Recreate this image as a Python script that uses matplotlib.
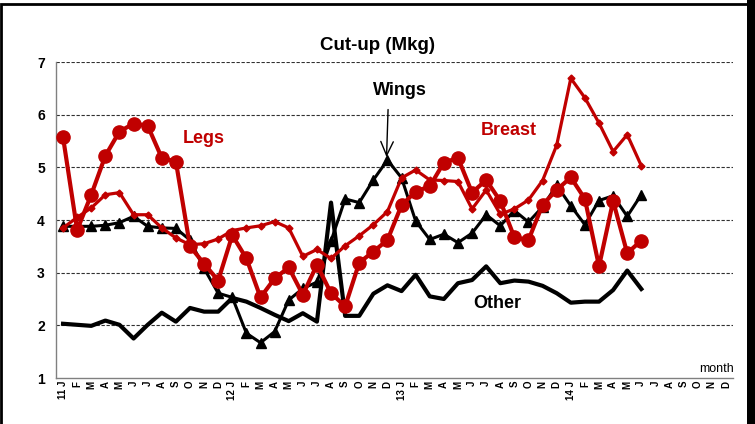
import matplotlib
matplotlib.use("Agg")
import matplotlib.pyplot as plt
from matplotlib.patches import Rectangle

plt.rcParams['font.family'] = ['Liberation Sans', 'DejaVu Sans']

RED = '#C00000'

# month labels, Jan 2011 .. Dec 2014
months = ['J', 'F', 'M', 'A', 'M', 'J', 'J', 'A', 'S', 'O', 'N', 'D']
years = ['11', '12', '13', '14']
tick_labels = []
for y in years:
    for k, m in enumerate(months):
        tick_labels.append(y + ' ' + m if k == 0 else m)

# Mkg, Jan 2011 .. Jun 2014
legs = [5.57, 3.81, 4.48, 5.22, 5.68, 5.83, 5.79, 5.18, 5.11, 3.50, 3.17, 2.85,
        3.71, 3.27, 2.53, 2.89, 3.10, 2.58, 3.15, 2.61, 2.36, 3.19, 3.40, 3.62,
        4.28, 4.54, 4.64, 5.09, 5.18, 4.52, 4.76, 4.36, 3.67, 3.62, 4.29, 4.57,
        4.81, 4.40, 3.12, 4.36, 3.37, 3.61]
breast = [3.85, 4.05, 4.23, 4.48, 4.52, 4.10, 4.10, 3.85, 3.66, 3.53, 3.55, 3.64,
          3.80, 3.85, 3.89, 3.97, 3.85, 3.31, 3.44, 3.27, 3.51, 3.70, 3.91, 4.16,
          4.80, 4.95, 4.76, 4.75, 4.73, 4.21, 4.57, 4.11, 4.21, 4.38, 4.75, 5.42,
          6.69, 6.32, 5.84, 5.30, 5.62, 5.03]
wings = [3.88, 3.88, 3.88, 3.90, 3.95, 4.07, 3.88, 3.85, 3.84, 3.62, 3.08, 2.61,
         2.53, 1.85, 1.67, 1.88, 2.48, 2.70, 2.82, 3.60, 4.40, 4.33, 4.76, 5.14,
         4.80, 3.98, 3.63, 3.73, 3.57, 3.75, 4.10, 3.89, 4.18, 3.96, 4.25, 4.66,
         4.27, 3.91, 4.37, 4.46, 4.07, 4.48]
other = [2.03, 2.01, 1.99, 2.09, 2.01, 1.75, 2.01, 2.24, 2.07, 2.33, 2.26, 2.26,
         2.52, 2.45, 2.33, 2.20, 2.08, 2.23, 2.07, 4.33, 2.18, 2.18, 2.60, 2.76,
         2.65, 2.96, 2.55, 2.50, 2.80, 2.86, 3.12, 2.80, 2.85, 2.83, 2.75, 2.61,
         2.43, 2.45, 2.45, 2.67, 3.04, 2.69]

fig = plt.figure(figsize=(7.55, 4.24), dpi=100)
ax = fig.add_axes([56 / 755, 46 / 424, 677 / 755, 316 / 424])

x = list(range(len(legs)))
ax.plot(x, other, color='black', lw=3, zorder=3)
ax.plot(x, wings, color='black', lw=2.2, marker='^', ms=6.5, zorder=4)
ax.plot(x, breast, color=RED, lw=2.3, marker='D', ms=3.5, zorder=5)
ax.plot(x, legs, color=RED, lw=3, marker='o', ms=9.5, zorder=6)

ax.set_xlim(-0.5, 47.5)
ax.set_ylim(1, 7)
ax.set_yticks(range(1, 8))
ax.set_yticklabels([str(v) for v in range(1, 8)], fontsize=10, fontweight='bold')
ax.set_xticks(range(48))
ax.set_xticklabels(tick_labels, rotation=90, fontsize=7, fontweight='bold')
ax.tick_params(axis='both', length=0)
ax.tick_params(axis='y', pad=8)
ax.tick_params(axis='x', pad=2)

for v in range(2, 8):
    ax.axhline(v, color='#303030', lw=0.8, ls=(0, (3, 1.5)), zorder=1)

for s in ['top', 'right']:
    ax.spines[s].set_visible(False)
for s in ['left', 'bottom']:
    ax.spines[s].set_color('#808080')
    ax.spines[s].set_linewidth(1)

ax.text(9.95, 5.55, 'Legs', color=RED, fontsize=13, fontweight='bold', ha='center', va='center')
ax.text(31.6, 5.69, 'Breast', color=RED, fontsize=13, fontweight='bold', ha='center', va='center')
ax.text(23.9, 6.45, 'Wings', color='black', fontsize=13, fontweight='bold', ha='center', va='center')
ax.text(30.8, 2.41, 'Other', color='black', fontsize=13, fontweight='bold', ha='center', va='center')
ax.annotate('', xy=(22.93, 5.14), xytext=(23.05, 6.15),
            arrowprops=dict(arrowstyle='->, head_length=1.0, head_width=0.45',
                            color='black', lw=1), zorder=7)

ax.text(0.976, 0.03, 'month', transform=ax.transAxes, fontsize=9, ha='center', va='center')
fig.text(0.5, 1 - 45 / 424, 'Cut-up (Mkg)', fontsize=13.5, fontweight='bold', ha='center', va='center')

# chart frame
fig.patches.append(Rectangle((1 / 755, -0.01), 749 / 755, 1.0, transform=fig.transFigure,
                             fill=False, edgecolor='black', lw=2))
fig.patches.append(Rectangle((747 / 755, 0), 8 / 755, 1, transform=fig.transFigure,
                             facecolor='black', edgecolor='none'))

fig.savefig('out.png', dpi=100)
